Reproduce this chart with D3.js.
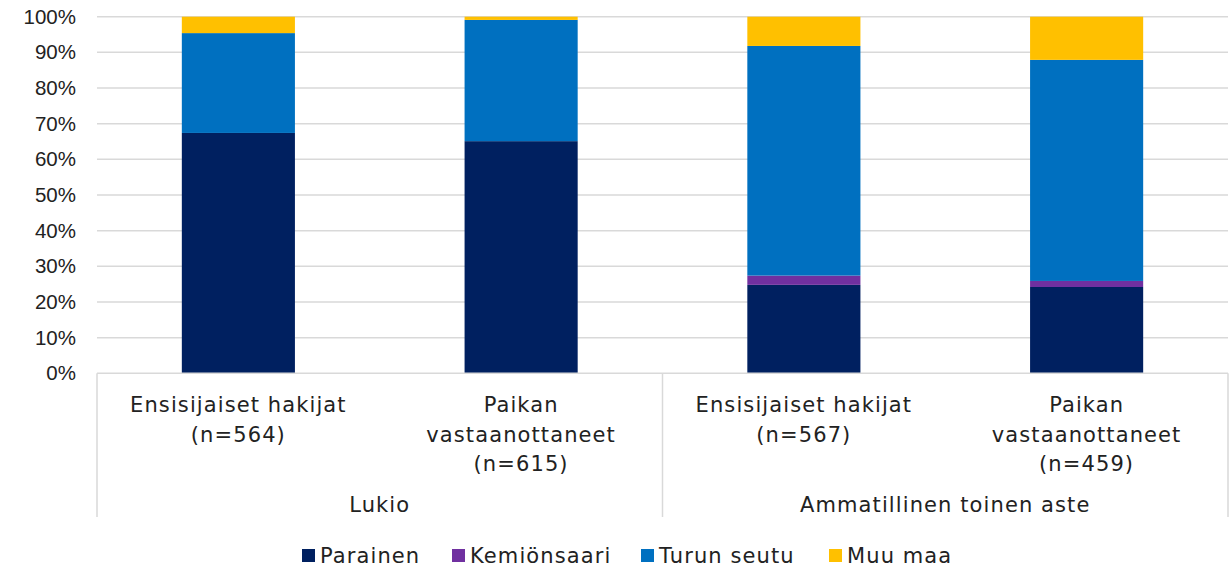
<!DOCTYPE html>
<html>
<head>
<meta charset="utf-8">
<script src="https://cdn.jsdelivr.net/npm/d3@7"></script>
<style>
  html, body { margin: 0; padding: 0; background: #ffffff; }
  svg { display: block; font-family: "DejaVu Sans", "Noto Sans", sans-serif; }
  .lbl { font-size: 21px; letter-spacing: 1.1px; }
</style>
</head>
<body>
<svg id="chart" width="1231" height="569"></svg>
<script>
// Categories: each bar has a label (lines) and belongs to a group
const categoryLines = [
  ["Ensisijaiset hakijat", "(n=564)"],
  ["Paikan", "vastaanottaneet", "(n=615)"],
  ["Ensisijaiset hakijat", "(n=567)"],
  ["Paikan", "vastaanottaneet", "(n=459)"]
];
const categoryGroup = [0, 0, 1, 1];
const groups = ["Lukio", "Ammatillinen toinen aste"];

// Series shares (%) per category
const seriesNames = ["Parainen", "Kemiönsaari", "Turun seutu", "Muu maa"];
const parainen    = [67.4, 65.1, 24.8, 24.2];
const kemionsaari = [0.0, 0.0, 2.6, 1.7];
const turunSeutu  = [28.0, 34.0, 64.4, 62.0];
const muuMaa      = [4.6, 0.9, 8.2, 12.1];
const yTicks = [0, 10, 20, 30, 40, 50, 60, 70, 80, 90, 100];

const colors = ["#002060", "#7030A0", "#0070C0", "#FFC000"];
const seriesValues = [parainen, kemionsaari, turunSeutu, muuMaa];

const svg = d3.select("#chart");
const plotLeft = 97, plotRight = 1228, plotTop = 16.7, plotBottom = 373.3;
const textColor = "#222222";
const lineColor = "#d9d9d9";

const x = d3.scaleBand()
  .domain(d3.range(categoryLines.length))
  .range([plotLeft, plotRight])
  .paddingInner(0.6)
  .paddingOuter(0.3);

const y = d3.scaleLinear().domain([0, 100]).range([plotBottom, plotTop]);

// Gridlines
svg.append("g")
  .selectAll("line")
  .data(yTicks.filter(t => t > 0))
  .join("line")
  .attr("x1", plotLeft).attr("x2", plotRight)
  .attr("y1", d => y(d)).attr("y2", d => y(d))
  .attr("stroke", lineColor).attr("stroke-width", 1.5);

// Y axis labels
const yAxis = d3.axisLeft(y)
  .tickValues(yTicks)
  .tickFormat(d => d + "%")
  .tickSize(0)
  .tickPadding(21);
const yg = svg.append("g").attr("transform", `translate(${plotLeft},0)`).call(yAxis);
yg.select(".domain").remove();
yg.selectAll("text")
  .attr("fill", textColor)
  .style("font-size", "20.5px")
  .style("font-family", "inherit");

// Stacked bars
const rows = d3.range(categoryLines.length).map(i => {
  const r = { i };
  seriesNames.forEach((s, k) => { r[s] = seriesValues[k][i]; });
  return r;
});
const stacked = d3.stack().keys(seriesNames)(rows);

svg.append("g")
  .selectAll("g")
  .data(stacked)
  .join("g")
  .attr("fill", (d, k) => colors[k])
  .selectAll("rect")
  .data(d => d)
  .join("rect")
  .attr("x", d => x(d.data.i))
  .attr("width", x.bandwidth())
  .attr("y", d => y(d[1]))
  .attr("height", d => Math.max(0, y(d[0]) - y(d[1])));

// Category axis frame: baseline and group separators
const frameBottom = 517;
const axisG = svg.append("g");
axisG.append("line")
  .attr("x1", plotLeft).attr("x2", plotRight)
  .attr("y1", plotBottom).attr("y2", plotBottom)
  .attr("stroke", lineColor).attr("stroke-width", 1.5);

const separators = [plotLeft];
groups.forEach((g, gi) => {
  const idx = d3.range(categoryLines.length).filter(i => categoryGroup[i] === gi);
  const last = idx[idx.length - 1];
  if (gi < groups.length - 1) {
    separators.push((x(last) + x.bandwidth() + x(last + 1)) / 2);
  }
});
separators.push(plotRight);
axisG.selectAll("line.sep")
  .data(separators)
  .join("line")
  .attr("class", "sep")
  .attr("x1", d => d).attr("x2", d => d)
  .attr("y1", plotBottom).attr("y2", frameBottom)
  .attr("stroke", lineColor).attr("stroke-width", 1.5);

// Category labels
const catG = svg.append("g")
  .attr("class", "lbl")
  .attr("fill", textColor)
  .attr("text-anchor", "middle");
categoryLines.forEach((lines, i) => {
  const cx = x(i) + x.bandwidth() / 2;
  const t = catG.append("text").attr("x", cx).attr("y", 412);
  lines.forEach((ln, j) => {
    t.append("tspan")
      .attr("x", cx)
      .attr("dy", j === 0 ? 0 : 29.5)
      .text(ln);
  });
});

// Group labels
groups.forEach((g, gi) => {
  svg.append("text")
    .attr("class", "lbl")
    .attr("x", (separators[gi] + separators[gi + 1]) / 2)
    .attr("y", 512)
    .attr("text-anchor", "middle")
    .attr("fill", textColor)
    .text(g);
});

// Legend
const legendX = [302, 452, 641, 829];
const lg = svg.append("g");
seriesNames.forEach((name, k) => {
  lg.append("rect")
    .attr("x", legendX[k]).attr("y", 549)
    .attr("width", 13).attr("height", 13)
    .attr("fill", colors[k]);
  lg.append("text")
    .attr("class", "lbl")
    .attr("x", legendX[k] + 18).attr("y", 563)
    .attr("fill", textColor)
    .text(name);
});
</script>
</body>
</html>
